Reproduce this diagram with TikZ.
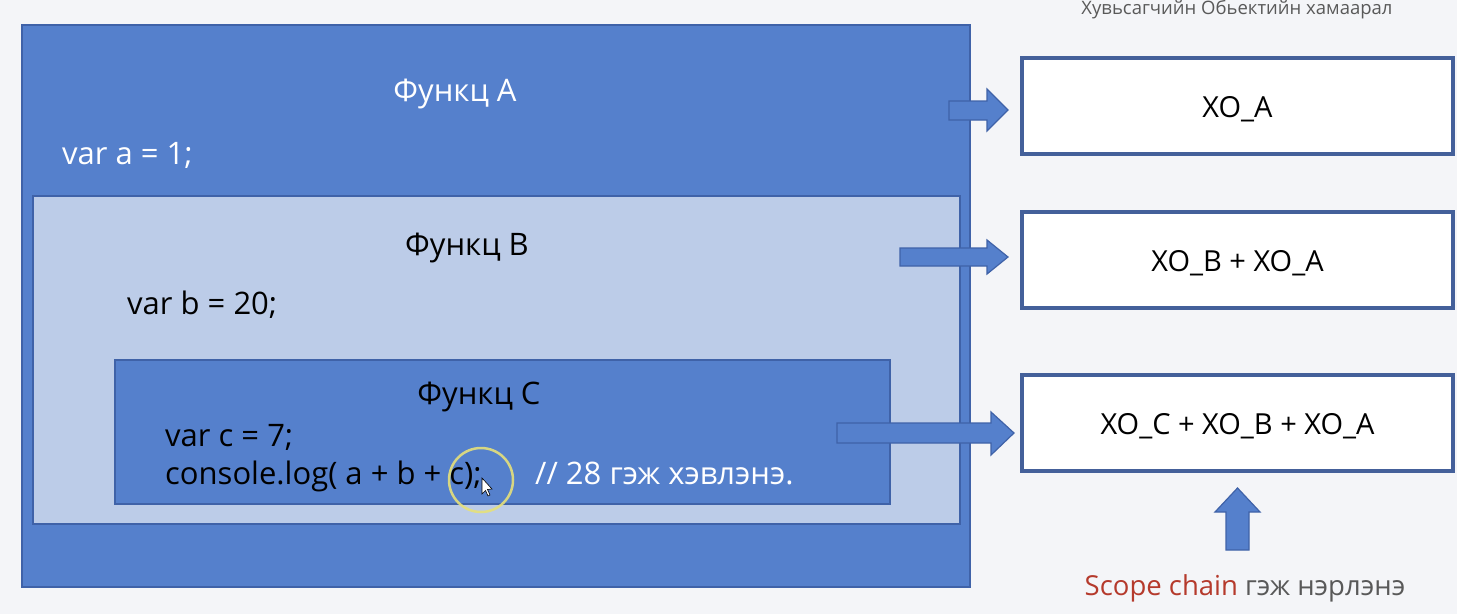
\documentclass[tikz,border=0pt]{standalone}
\usepackage{fontspec}
\setmainfont{Open Sans}
\usetikzlibrary{positioning,calc}
\definecolor{bg}{HTML}{F4F5F8}
\definecolor{blueA}{HTML}{5580CC}
\definecolor{blueB}{HTML}{BCCCE8}
\definecolor{edge}{HTML}{3F62A8}
\definecolor{xoedge}{HTML}{44609A}
\definecolor{greytxt}{HTML}{595959}
\definecolor{redtxt}{HTML}{B53A2C}
\definecolor{ring}{HTML}{E6E07A}
\tikzset{
  scopebox/.style={draw=edge, line width=1.5pt, anchor=north west, inner sep=0pt, outer sep=0pt},
  xobox/.style={draw=xoedge, fill=white, line width=4pt, anchor=north west, inner sep=0pt, outer sep=0pt, minimum width=431pt, minimum height=96pt},
  code/.style={font=\fontsize{31}{34}\selectfont, inner sep=0pt, anchor=base west},
  ttl/.style={font=\fontsize{31}{34}\selectfont, inner sep=0pt, anchor=base},
  xotxt/.style={font=\fontsize{29}{32}\selectfont, inner sep=0pt, anchor=base},
  blockarrow/.style={fill=blueA, draw=edge, line width=1.2pt, line join=miter},
}
\begin{document}
\begin{tikzpicture}[x=1pt,y=-1pt]
\useasboundingbox (0,0) rectangle (1474,614);
\fill[bg] (0,0) rectangle (1474,614);
\fill[white] (1457,0) rectangle (1474,614);

% scopes
\node[scopebox, fill=blueA, minimum width=948pt, minimum height=562pt] (A) at (22,25) {};
\node[scopebox, fill=blueB, minimum width=927pt, minimum height=328pt] (B) at (33,196) {};
\node[scopebox, fill=blueA, minimum width=775pt, minimum height=144pt] (C) at (115,360) {};

\node[ttl, text=white] (tA) at (455,101) {Функц A};
\node[code, text=white] (va) at (62,164) {var a = 1;};
\node[ttl] (tB) at (467,255) {Функц B};
\node[code] (vb) at (127,314) {var b = 20;};
\node[ttl] (tC) at (479,404) {Функц C};
\node[code] (vc) at (165,446) {var c = 7;};
\node[code] (cl) at (165,484) {console.log( a + b + c);};
\node[code, text=white] (cm) at (535,484) {// 28 гэж хэвлэнэ.};

% highlight ring and cursor
\draw[ring, line width=2.5pt, opacity=0.9] (481,480) circle (32);
\draw[fill=white, draw=black, line width=0.6pt] (482,478) -- (482,494) -- (485.5,490.5) -- (488,496) -- (490,495) -- (487.5,489.5) -- (492,489) -- cycle;

% XO boxes
\node[xobox] (XA) at (1022,58) {};
\node[xobox] (XB) at (1022,212) {};
\node[xobox] (XC) at (1022,375) {};
\node[xotxt] (lXA) at ($(XA.center)+(0,11)$) {XO\_A};
\node[xotxt] (lXB) at ($(XB.center)+(0,11)$) {XO\_B + XO\_A};
\node[xotxt] (lXC) at ($(XC.center)+(0,11)$) {XO\_C + XO\_B + XO\_A};

% block arrows
\draw[blockarrow] (949,101) -- (987,101) -- (987,89) -- (1008,110) -- (987,131) -- (987,120) -- (949,120) -- cycle;
\draw[blockarrow] (900,248) -- (987,248) -- (987,240) -- (1008,257) -- (987,274) -- (987,266) -- (900,266) -- cycle;
\draw[blockarrow] (837,423) -- (991,423) -- (991,412) -- (1014,433) -- (991,455) -- (991,443) -- (837,443) -- cycle;
\draw[blockarrow] (1226,550) -- (1226,512) -- (1215,512) -- (1237.5,488) -- (1260,512) -- (1249,512) -- (1249,550) -- cycle;

% labels
\node[font=\fontsize{18.5}{21}\selectfont, text=greytxt, inner sep=0pt, anchor=base] (title) at (1237,14) {Хувьсагчийн Обьектийн хамаарал};
\node[font=\fontsize{27.5}{30}\selectfont, inner sep=0pt, anchor=base] (sc) at (1245,595) {\textcolor{redtxt}{Scope chain} \textcolor{greytxt}{гэж нэрлэнэ}};
\end{tikzpicture}
\end{document}
